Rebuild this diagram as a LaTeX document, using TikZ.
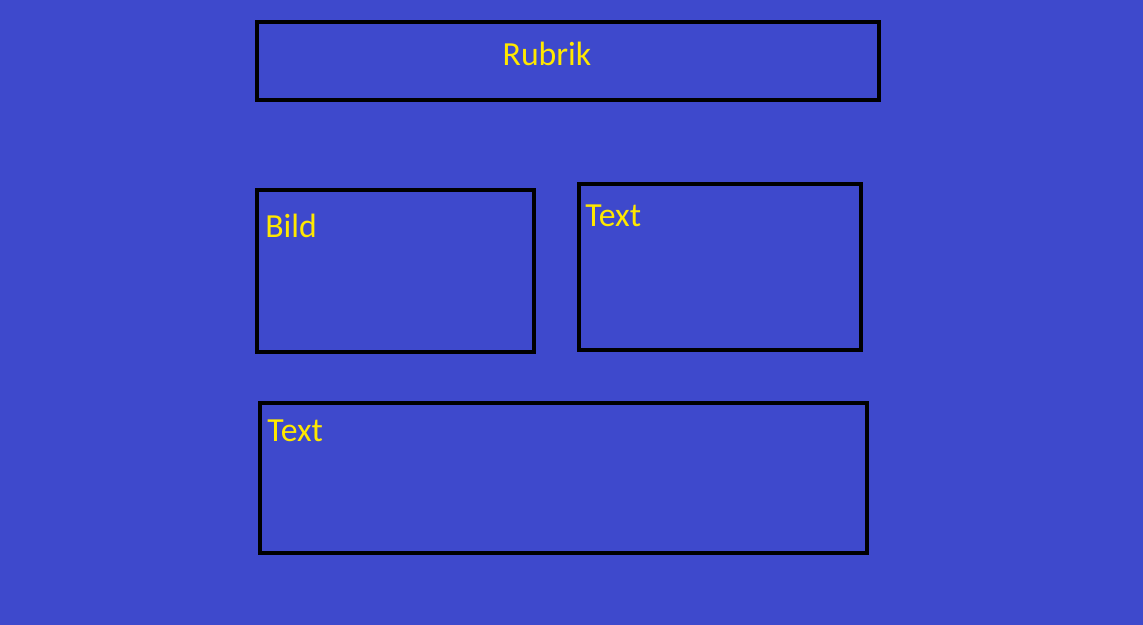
\documentclass[tikz,border=0pt]{standalone}
\usepackage{fontspec}
\setmainfont{Carlito}
\definecolor{bgblue}{RGB}{62,73,204}
\definecolor{txtyellow}{RGB}{255,232,0}

\begin{document}
\begin{tikzpicture}[x=0.02cm,y=-0.02cm,
  box/.style={rectangle,draw=black,line width=2.3pt,inner sep=0pt},
  lbl/.style={text=txtyellow,font=\fontsize{19.2}{23}\selectfont,inner sep=0pt,anchor=base west}]

  \fill[bgblue] (0,0) rectangle (1143,625);
  \useasboundingbox (0,0) rectangle (1143,625);

  \node[box,minimum width=12.44cm,minimum height=1.56cm] (rubrik) at (568,61) {};
  \node[box,minimum width=5.54cm,minimum height=3.24cm] (bild) at (395.5,271) {};
  \node[box,minimum width=5.64cm,minimum height=3.32cm] (text1) at (720,267) {};
  \node[box,minimum width=12.14cm,minimum height=3.0cm] (text2) at (563.5,478) {};

  \node[lbl,anchor=base] (rubriklbl) at (547,66) {Rubrik};
  \node[lbl] (bildlbl) at (265,237) {Bild};
  \node[lbl] (text1lbl) at (585,226) {Text};
  \node[lbl] (text2lbl) at (267,441) {Text};

\end{tikzpicture}
\end{document}
